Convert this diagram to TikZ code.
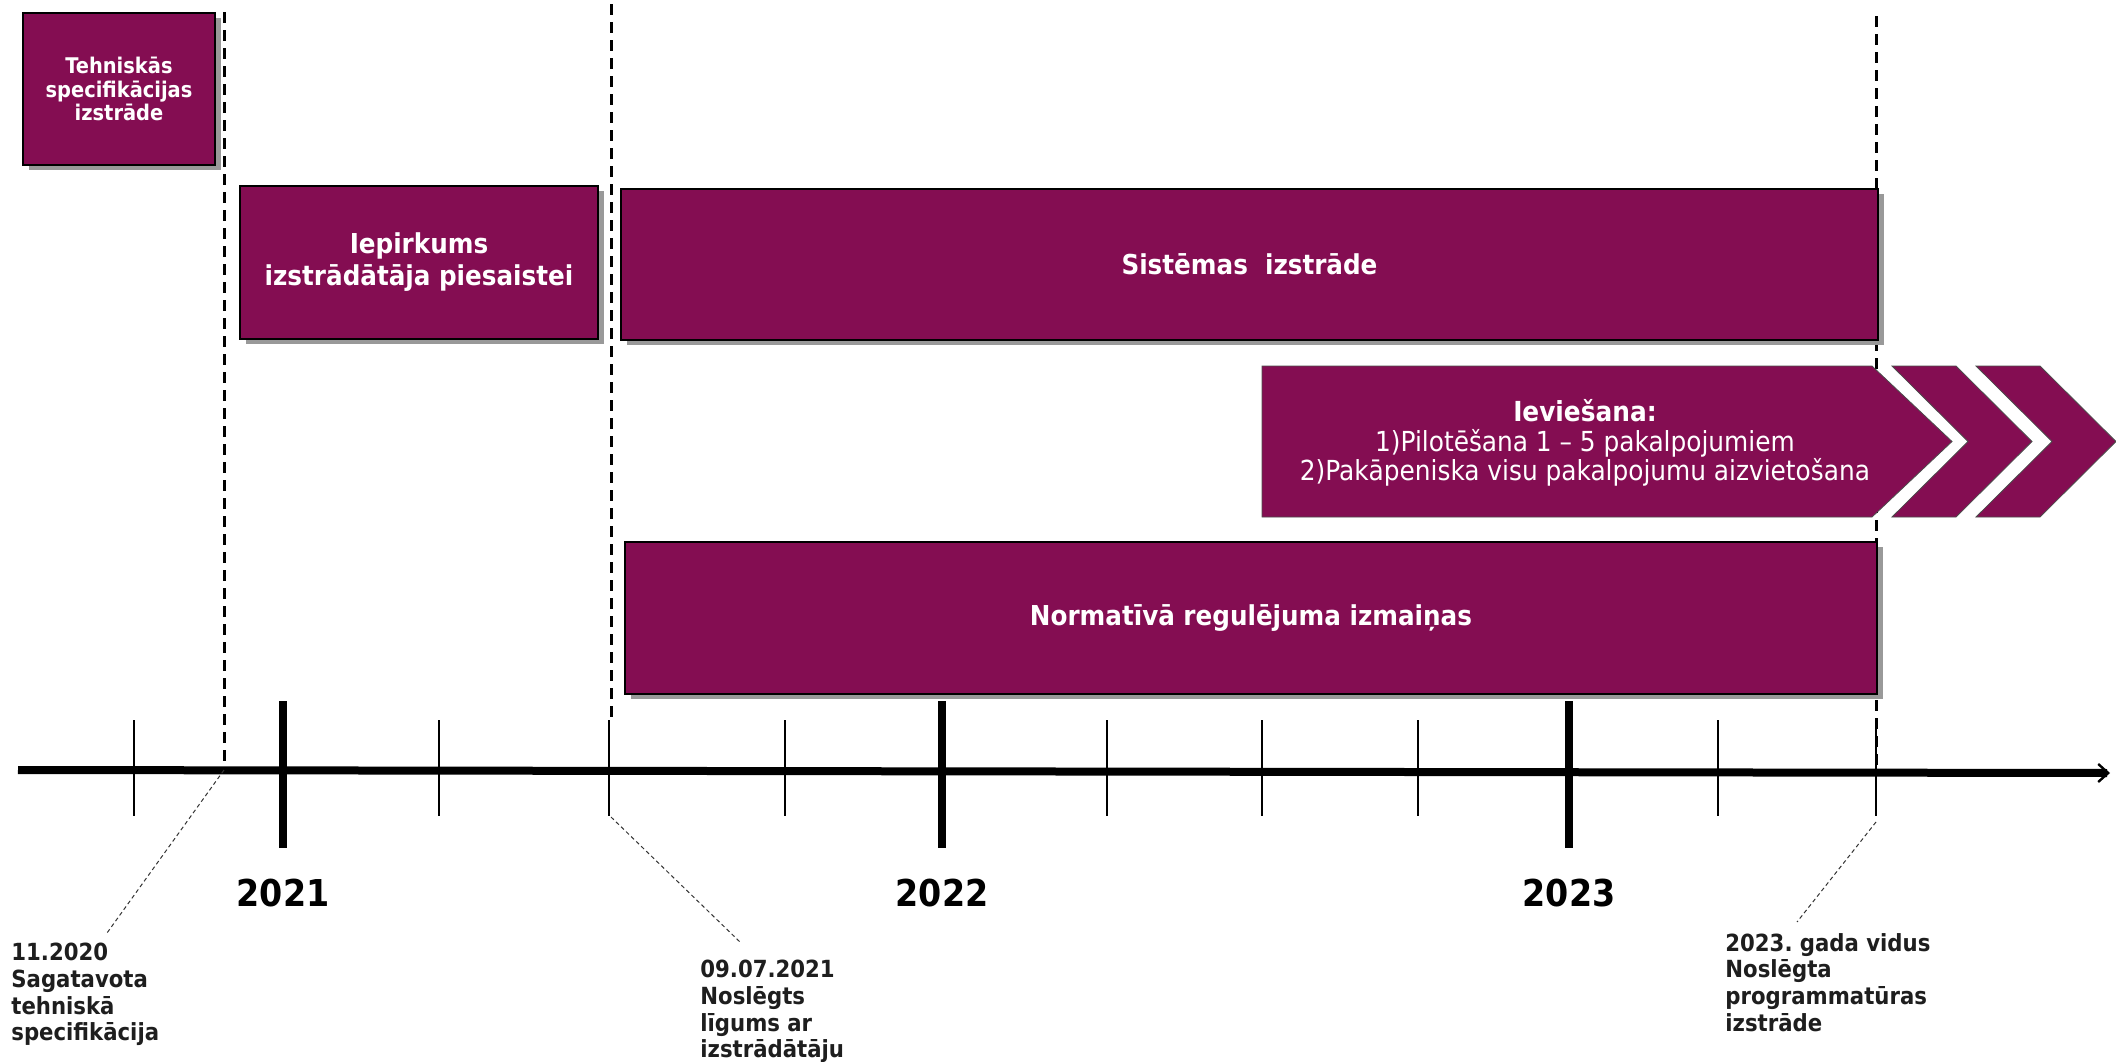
\documentclass[tikz,border=0pt]{standalone}
\usepackage{fontspec}
\setmainfont{DejaVu Sans Condensed}
\usetikzlibrary{arrows.meta,shadows}

\definecolor{plum}{HTML}{840D52}
\definecolor{ink}{HTML}{1E1E1E}

\tikzset{
  phase/.style={draw=black, line width=0.6pt, fill=plum, text=white, align=center,
    inner sep=0pt, font=\bfseries\fontsize{13.7}{16}\selectfont,
    drop shadow={shadow xshift=3pt, shadow yshift=-2.5pt, fill=black!40, opacity=1}},
  chevron/.style={draw=black!70, line width=0.4pt, fill=plum},
  cut/.style={line width=1.5pt, dash pattern=on 5.5pt off 3.5pt},
  leader/.style={line width=0.5pt, black!80, dash pattern=on 2pt off 1.5pt},
  minortick/.style={line width=1pt},
  majortick/.style={line width=4pt},
  year/.style={font=\bfseries\fontsize{18.5}{20}\selectfont},
  note/.style={anchor=north west, align=left, inner sep=0pt, text=ink,
    font=\frenchspacing\bfseries\fontsize{11.8}{13.3}\selectfont}
}

\begin{document}
\begin{tikzpicture}[x=0.5pt, y=-0.5pt]
    \useasboundingbox (0,0) rectangle (2116,1061);

    % milestones, drawn first so the bars sit on top
    \coordinate (c1) at (224,12);   \coordinate (t1) at (224,770);
    \coordinate (c2) at (611,4);    \coordinate (t2) at (611,720);
    \coordinate (c3) at (1876,16);  \coordinate (t3) at (1876,770);
    \draw[cut] (c1) -- (t1);
    \draw[cut] (c2) -- (t2);
    \draw[cut] (c3) -- (t3);

    % bars
    \node[phase, minimum width=96pt, minimum height=76pt,
          font=\bfseries\fontsize{10.8}{11.6}\selectfont] (spec) at (119,89)
          {Tehniskās\\specifikācijas\\izstrāde};
    \node[phase, minimum width=179pt, minimum height=76.5pt] (tender) at (419,262.5)
          {Iepirkums\\izstrādātāja piesaistei};
    \node[phase, minimum width=628.5pt, minimum height=75.5pt] (build) at (1249.5,264.5)
          {Sistēmas\ \ izstrāde};
    \node[phase, minimum width=626pt, minimum height=76pt] (norm) at (1251,618)
          {Normatīvā regulējuma izmaiņas};

    % rollout chevrons
    \draw[chevron] (1262,366) -- (1872,366) -- (1952,441.5) -- (1872,517) -- (1262,517) -- cycle;
    \foreach \x in {1892,1976}
        \draw[chevron] (\x,366) -- ++(64,0) -- ++(76,75.5) -- ++(-76,75.5) -- ++(-64,0) -- ++(76,-75.5) -- cycle;
    \node[text=white, align=center, font=\fontsize{13.8}{14.7}\selectfont] (rollout) at (1585,443)
          {\textbf{Ieviešana:}\\1)Pilotēšana 1 – 5 pakalpojumiem\\2)Pakāpeniska visu pakalpojumu aizvietošana};

    % time axis
    \draw[line width=4pt, -{Straight Barb[length=5pt, width=9pt, line width=1.2pt]}] (18,770) -- (2110,773);
    \foreach \x in {134,439,609,785,1107,1262,1418,1718,1876}
        \draw[minortick] (\x,720) -- (\x,816);
    \foreach \x/\yr in {283/2021,942/2022,1569/2023} {
        \draw[majortick] (\x,701) -- (\x,848);
        \node[year] (y\yr) at (\x,893) {\yr};
    }

    % milestone notes
    \node[note] (n1) at (11,943) {11.2020\\Sagatavota\\tehniskā\\specifikācija};
    \node[note] (n2) at (700,960) {09.07.2021\\Noslēgts\\līgums ar\\izstrādātāju};
    \node[note] (n3) at (1725,933) {2023. gada vidus\\Noslēgta\\programmatūras\\izstrāde};
    \coordinate (e1) at (107,933);
    \coordinate (e2) at (740,942);
    \coordinate (e3) at (1797,922);
    \coordinate (b2) at (611,817);
    \coordinate (b3) at (1876,822);
    \draw[leader] (t1) -- (e1);
    \draw[leader] (b2) -- (e2);
    \draw[leader] (b3) -- (e3);
\end{tikzpicture}
\end{document}
